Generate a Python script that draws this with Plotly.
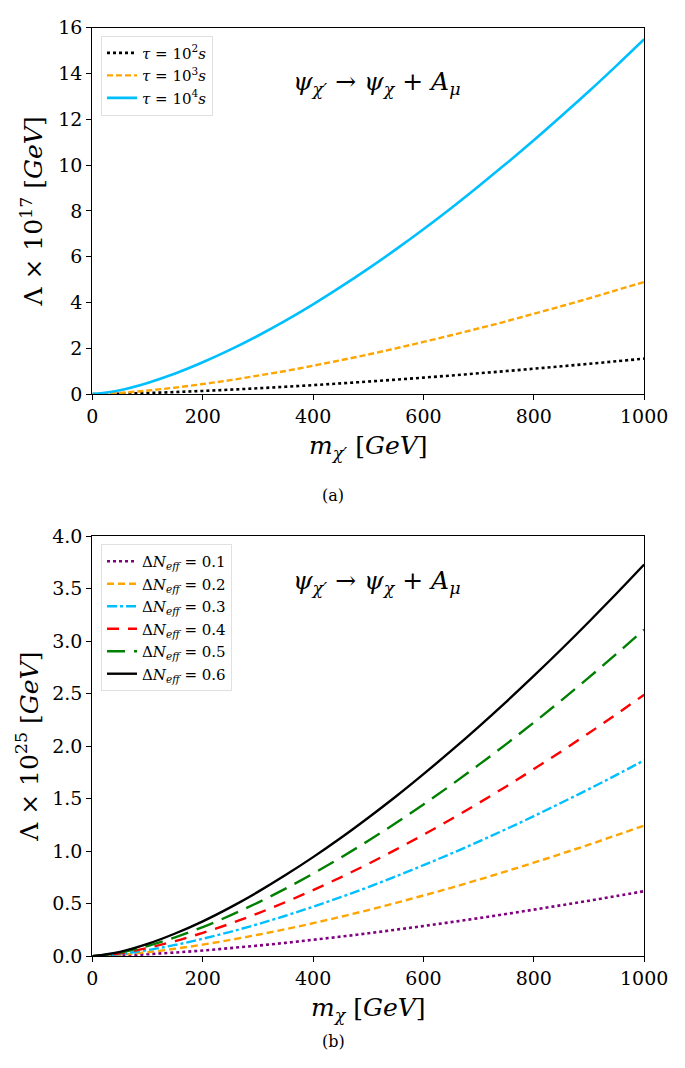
import plotly.graph_objects as go

# ---- data ----
m_vals = [0, 50, 100, 150, 200, 250, 300, 350, 400, 450, 500,
          550, 600, 650, 700, 750, 800, 850, 900, 950, 1000]

tau_labels = ["<i>τ</i> = 10<sup>2</sup><i>s</i>",
              "<i>τ</i> = 10<sup>3</sup><i>s</i>",
              "<i>τ</i> = 10<sup>4</sup><i>s</i>"]
lam_tau2 = [0, 0.017, 0.049, 0.090, 0.139, 0.194, 0.255, 0.321, 0.392, 0.468, 0.548,
            0.632, 0.720, 0.812, 0.908, 1.007, 1.109, 1.215, 1.323, 1.435, 1.55]
lam_tau3 = [0, 0.055, 0.155, 0.285, 0.44, 0.61, 0.81, 1.01, 1.24, 1.48, 1.73,
            2.00, 2.28, 2.57, 2.87, 3.18, 3.51, 3.84, 4.18, 4.54, 4.90]
lam_tau4 = [0, 0.173, 0.49, 0.90, 1.39, 1.94, 2.55, 3.21, 3.92, 4.68, 5.48,
            6.32, 7.20, 8.12, 9.08, 10.07, 11.09, 12.15, 13.23, 14.35, 15.5]

dn_labels = ["Δ<i>N</i><sub><i>eff</i></sub> = 0.1", "Δ<i>N</i><sub><i>eff</i></sub> = 0.2",
             "Δ<i>N</i><sub><i>eff</i></sub> = 0.3", "Δ<i>N</i><sub><i>eff</i></sub> = 0.4",
             "Δ<i>N</i><sub><i>eff</i></sub> = 0.5", "Δ<i>N</i><sub><i>eff</i></sub> = 0.6"]
lam_dn1 = [0, .007, .020, .036, .055, .078, .102, .128, .157, .187, .219,
           .253, .288, .325, .363, .403, .444, .486, .529, .574, .62]
lam_dn2 = [0, .014, .039, .072, .111, .156, .205, .258, .315, .376, .440,
           .508, .579, .652, .729, .809, .891, .976, 1.063, 1.153, 1.245]
lam_dn3 = [0, .021, .059, .108, .167, .233, .306, .386, .472, .563, .659,
           .761, .867, .977, 1.092, 1.211, 1.334, 1.462, 1.592, 1.727, 1.865]
lam_dn4 = [0, .028, .079, .145, .223, .311, .409, .516, .630, .752, .880,
           1.016, 1.157, 1.305, 1.458, 1.617, 1.782, 1.951, 2.126, 2.305, 2.49]
lam_dn5 = [0, .035, .098, .181, .278, .389, .511, .644, .787, .939, 1.100,
           1.269, 1.446, 1.630, 1.822, 2.020, 2.225, 2.437, 2.655, 2.880, 3.11]
lam_dn6 = [0, .042, .118, .217, .333, .466, .613, .773, .944, 1.126, 1.319,
           1.521, 1.734, 1.955, 2.185, 2.423, 2.669, 2.923, 3.185, 3.454, 3.73]

FONT = "DejaVu Serif"
W, H = 685, 1068

def px_x(p):
    return p / W

def px_y(p):
    return 1 - p / H

fig = go.Figure()

top_styles = [("black", "dot", 2.6), ("orange", "6px,3px", 2.4), ("#00BFFF", "solid", 2.6)]
for lab, ys, (c, d, w) in zip(tau_labels, [lam_tau2, lam_tau3, lam_tau4], top_styles):
    fig.add_trace(go.Scatter(x=m_vals, y=ys, mode="lines", name=lab,
                             line=dict(color=c, dash=d, width=w, shape="spline"),
                             xaxis="x", yaxis="y", legend="legend"))

bot_styles = [("purple", "dot", 2.6), ("orange", "7px,4px", 2.4), ("#00BFFF", "10px,3px,3px,3px", 2.4),
              ("red", "12px,9px", 2.4), ("green", "18px,9px", 2.4), ("black", "solid", 2.4)]
for lab, ys, (c, d, w) in zip(dn_labels, [lam_dn1, lam_dn2, lam_dn3, lam_dn4, lam_dn5, lam_dn6], bot_styles):
    fig.add_trace(go.Scatter(x=m_vals, y=ys, mode="lines", name=lab,
                             line=dict(color=c, dash=d, width=w, shape="spline"),
                             xaxis="x2", yaxis="y2", legend="legend2"))

axis_common = dict(showline=True, linecolor="black", linewidth=1.3, mirror=True,
                   ticks="outside", ticklen=5, tickwidth=1.2, tickcolor="black",
                   showgrid=False, zeroline=False,
                   tickfont=dict(family=FONT, size=19, color="black"))

title_font = dict(family=FONT, size=25, color="black")
xdom = [px_x(82), px_x(659)]
fig.update_layout(
    width=W, height=H, margin=dict(l=0, r=0, t=0, b=0),
    paper_bgcolor="white", plot_bgcolor="white", showlegend=True,
    xaxis=dict(domain=xdom, range=[0, 1000], dtick=200, anchor="y", **axis_common,
               title=dict(text="<i>m</i><sub><i>χ′</i></sub> [<i>GeV</i>]",
                          font=title_font, standoff=10)),
    yaxis=dict(domain=[px_y(383), px_y(9)], range=[0, 16], dtick=2, anchor="x", **axis_common,
               title=dict(text="Λ × 10<sup>17</sup> [<i>GeV</i>]",
                          font=title_font, standoff=8)),
    xaxis2=dict(domain=xdom, range=[0, 1000], dtick=200, anchor="y2", **axis_common,
                title=dict(text="<i>m</i><sub><i>χ</i></sub> [<i>GeV</i>]",
                           font=title_font, standoff=10)),
    yaxis2=dict(domain=[px_y(957), px_y(528)], range=[0, 4], dtick=0.5, tickformat=".1f",
                anchor="x2", **axis_common,
                title=dict(text="Λ × 10<sup>25</sup> [<i>GeV</i>]",
                           font=title_font, standoff=6)),
    legend=dict(x=px_x(91), y=px_y(17), xanchor="left", yanchor="top",
                bgcolor="rgba(255,255,255,0.8)", bordercolor="#e0e0e0", borderwidth=1,
                font=dict(family=FONT, size=15, color="black"), tracegroupgap=0,
                itemwidth=30),
    legend2=dict(x=px_x(91), y=px_y(536), xanchor="left", yanchor="top",
                 bgcolor="rgba(255,255,255,0.8)", bordercolor="#e0e0e0", borderwidth=1,
                 font=dict(family=FONT, size=15, color="black"), tracegroupgap=0,
                 itemwidth=30),
    annotations=[
        dict(text="<i>ψ</i><sub><i>χ′</i></sub> → <i>ψ</i><sub><i>χ</i></sub> + <i>A</i><sub><i>μ</i></sub>",
             x=px_x(380), y=px_y(47), xref="paper", yref="paper", showarrow=False,
             font=dict(family=FONT, size=25, color="black")),
        dict(text="<i>ψ</i><sub><i>χ′</i></sub> → <i>ψ</i><sub><i>χ</i></sub> + <i>A</i><sub><i>μ</i></sub>",
             x=px_x(380), y=px_y(575), xref="paper", yref="paper", showarrow=False,
             font=dict(family=FONT, size=25, color="black")),
        dict(text="(a)", x=px_x(334), y=px_y(487), xref="paper", yref="paper", showarrow=False,
             font=dict(family=FONT, size=16, color="black")),
        dict(text="(b)", x=px_x(334), y=px_y(1056), xref="paper", yref="paper", showarrow=False,
             font=dict(family=FONT, size=16, color="black")),
    ],
)

fig.write_html("out.html")
